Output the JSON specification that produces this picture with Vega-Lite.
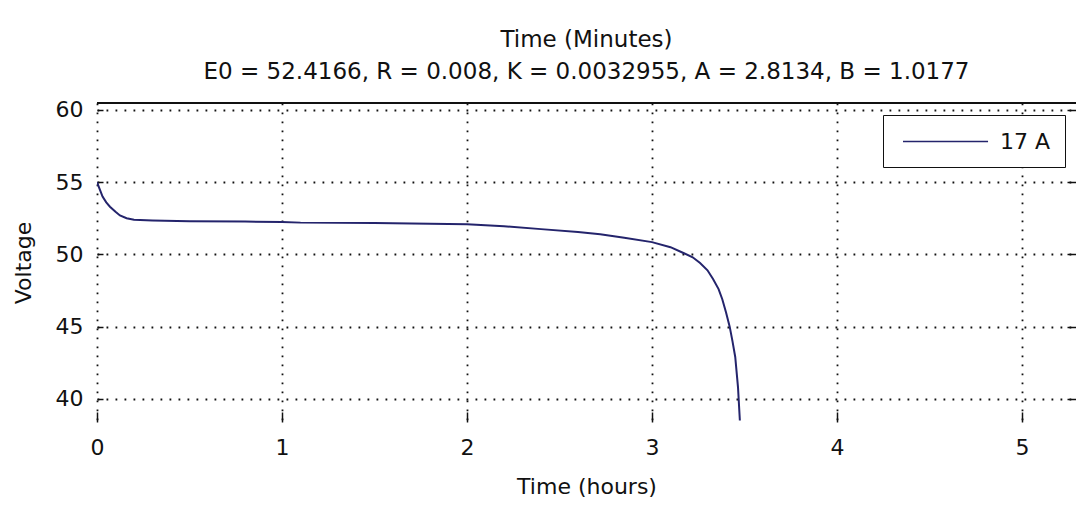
{
  "$schema": "https://vega.github.io/schema/vega-lite/v6.json",
  "width": 979,
  "height": 319,
  "autosize": {"type": "none"},
  "padding": {"left": 97, "top": 103, "right": 0, "bottom": 89},
  "background": "white",
  "config": {
    "view": {"stroke": null},
    "font": "DejaVu Sans",
    "axis": {
      "labelFont": "DejaVu Sans", "labelFontSize": 22, "labelColor": "#111",
      "titleFont": "DejaVu Sans", "titleFontSize": 22, "titleFontWeight": "normal", "titleColor": "#111",
      "domain": false, "tickColor": "#111", "tickWidth": 1.5,
      "gridColor": "#111", "gridWidth": 1.8, "gridDash": [1.8, 7.2], "gridOpacity": 1
    }
  },
  "title": {
    "text": ["Time (Minutes)", "E0 = 52.4166, R = 0.008, K = 0.0032955, A = 2.8134, B = 1.0177"],
    "font": "DejaVu Sans", "fontSize": 23, "fontWeight": "normal", "color": "#111",
    "anchor": "middle", "frame": "group", "lineHeight": 32, "offset": 15
  },
  "data": {"values": [
    {"h": 0, "v": 55.0, "s": "17 A"},
    {"h": 0.015, "v": 54.5, "s": "17 A"},
    {"h": 0.03, "v": 54.0, "s": "17 A"},
    {"h": 0.05, "v": 53.6, "s": "17 A"},
    {"h": 0.07, "v": 53.3, "s": "17 A"},
    {"h": 0.1, "v": 52.95, "s": "17 A"},
    {"h": 0.124, "v": 52.7, "s": "17 A"},
    {"h": 0.16, "v": 52.5, "s": "17 A"},
    {"h": 0.2, "v": 52.4, "s": "17 A"},
    {"h": 0.3, "v": 52.35, "s": "17 A"},
    {"h": 0.5, "v": 52.3, "s": "17 A"},
    {"h": 0.8, "v": 52.27, "s": "17 A"},
    {"h": 1.0, "v": 52.25, "s": "17 A"},
    {"h": 1.1, "v": 52.2, "s": "17 A"},
    {"h": 1.5, "v": 52.18, "s": "17 A"},
    {"h": 2.0, "v": 52.08, "s": "17 A"},
    {"h": 2.2, "v": 51.95, "s": "17 A"},
    {"h": 2.4, "v": 51.75, "s": "17 A"},
    {"h": 2.6, "v": 51.55, "s": "17 A"},
    {"h": 2.72, "v": 51.4, "s": "17 A"},
    {"h": 2.85, "v": 51.15, "s": "17 A"},
    {"h": 3.0, "v": 50.85, "s": "17 A"},
    {"h": 3.1, "v": 50.5, "s": "17 A"},
    {"h": 3.17, "v": 50.1, "s": "17 A"},
    {"h": 3.22, "v": 49.8, "s": "17 A"},
    {"h": 3.26, "v": 49.4, "s": "17 A"},
    {"h": 3.3, "v": 48.9, "s": "17 A"},
    {"h": 3.33, "v": 48.3, "s": "17 A"},
    {"h": 3.36, "v": 47.6, "s": "17 A"},
    {"h": 3.38, "v": 46.9, "s": "17 A"},
    {"h": 3.4, "v": 46.0, "s": "17 A"},
    {"h": 3.42, "v": 45.0, "s": "17 A"},
    {"h": 3.435, "v": 44.0, "s": "17 A"},
    {"h": 3.45, "v": 42.9, "s": "17 A"},
    {"h": 3.465, "v": 40.8, "s": "17 A"},
    {"h": 3.475, "v": 38.5, "s": "17 A"}
  ]},
  "layer": [
    {
      "mark": {"type": "line", "strokeWidth": 2, "clip": true},
      "encoding": {
        "x": {"field": "h", "type": "quantitative",
          "scale": {"domain": [0, 5.292], "nice": false, "zero": false},
          "axis": {"title": "Time (hours)", "values": [0, 1, 2, 3, 4, 5], "tickSize": -10, "labelPadding": 25, "titlePadding": 18, "labelFlush": false}},
        "y": {"field": "v", "type": "quantitative",
          "scale": {"domain": [38.4, 60.48], "nice": false, "zero": false},
          "axis": {"title": "Voltage", "values": [40, 45, 50, 55, 60], "tickSize": -6, "labelPadding": 20, "titlePadding": 20, "labelFlush": false}},
        "color": {"field": "s", "type": "nominal",
          "scale": {"range": ["#24246c"]},
          "legend": {"title": null, "orient": "none", "legendX": 786, "legendY": 12,
            "strokeColor": "#111", "fillColor": "white", "padding": 14,
            "symbolType": "M-0.565,0H6.83", "symbolSize": 529, "symbolStrokeWidth": 1.5, "symbolStrokeColor": "#111", "symbolFillColor": "transparent",
            "labelFont": "DejaVu Sans", "labelFontSize": 22, "labelColor": "#111", "labelOffset": 78}}
      }
    },
    {
      "mark": {"type": "rule", "color": "#111", "strokeWidth": 2},
      "encoding": {
        "y": {"datum": 60.48, "type": "quantitative",
          "axis": {"orient": "right", "title": null, "labels": false, "grid": false, "values": [40, 45, 50, 55, 60], "tickSize": -9}}
      }
    }
  ],
  "resolve": {"axis": {"y": "independent"}}
}
